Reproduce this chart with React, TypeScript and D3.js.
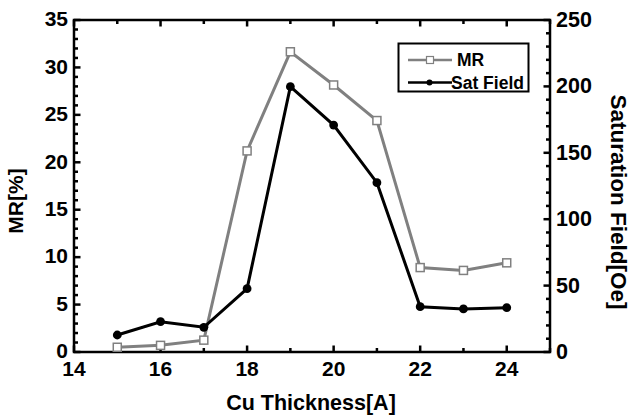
import React from 'react';
import * as d3 from 'd3';

const thickness = [15, 16, 17, 18, 19, 20, 21, 22, 23, 24];
const mrValues = [0.5, 0.7, 1.25, 21.2, 31.65, 28.15, 24.4, 8.9, 8.6, 9.4];
const satFieldValues = [12.8, 22.8, 18.6, 47.7, 199.8, 170.9, 127.5, 34.1, 32.4, 33.4];
const xTicks = [14, 16, 18, 20, 22, 24];
const leftTicks = [0, 5, 10, 15, 20, 25, 30, 35];
const rightTicks = [0, 50, 100, 150, 200, 250];

const W = 631;
const H = 416;
const m = { left: 74, right: 550, top: 20, bottom: 352 };
const font = '"Liberation Sans", Arial, sans-serif';

const App = () => {
  const x = d3.scaleLinear().domain([14, 25]).range([m.left, m.right]);
  const yL = d3.scaleLinear().domain([0, 35]).range([m.bottom, m.top]);
  const yR = d3.scaleLinear().domain([0, 250]).range([m.bottom, m.top]);

  const mrLine = d3.line<number>().x((d, i) => x(thickness[i])).y((d) => yL(d));
  const satLine = d3.line<number>().x((d, i) => x(thickness[i])).y((d) => yR(d));

  const xMinor = d3.range(14, 26, 1);
  const leftMinor = d3.range(0, 36, 1);
  const rightMinor = d3.range(0, 251, 10);

  const tickStyle = { stroke: '#000', strokeWidth: 2.5 };

  return (
    <svg width={W} height={H} style={{ position: 'absolute', left: 0, top: 0, display: 'block', background: '#fff' }}
      fontFamily={font} fontWeight="bold">
      {/* bottom + top ticks, all pointing inward */}
      {xMinor.map((v) => {
        const len = v % 2 === 0 ? 6.5 : 4;
        return (
          <g key={'xt' + v}>
            <line x1={x(v)} x2={x(v)} y1={m.bottom} y2={m.bottom - len} {...tickStyle} />
            <line x1={x(v)} x2={x(v)} y1={m.top} y2={m.top + len} {...tickStyle} />
          </g>
        );
      })}
      {leftMinor.map((v) => (
        <line key={'lt' + v} x1={m.left} x2={m.left + (v % 5 === 0 ? 6.5 : 4)} y1={yL(v)} y2={yL(v)} {...tickStyle} />
      ))}
      {rightMinor.map((v) => (
        <line key={'rt' + v} x1={m.right} x2={m.right - (v % 50 === 0 ? 6.5 : 4)} y1={yR(v)} y2={yR(v)} {...tickStyle} />
      ))}
      <rect x={m.left} y={m.top} width={m.right - m.left} height={m.bottom - m.top} fill="none" stroke="#000" strokeWidth={2.5} />

      {xTicks.map((v) => (
        <text key={'xl' + v} x={x(v)} y={376} textAnchor="middle" fontSize={21}>{v}</text>
      ))}
      {leftTicks.map((v) => (
        <text key={'ll' + v} x={68} y={yL(v)} dy="0.3em" textAnchor="end" fontSize={21}>{v}</text>
      ))}
      {rightTicks.map((v) => (
        <text key={'rl' + v} x={556} y={yR(v)} dy="0.33em" textAnchor="start" fontSize={21.5}>{v}</text>
      ))}

      <text x={311} y={410} textAnchor="middle" fontSize={21.5}>Cu Thickness[A]</text>
      <text transform="translate(23,201) rotate(-90)" textAnchor="middle" fontSize={21}>MR[%]</text>
      <text transform="translate(611,202) rotate(90)" textAnchor="middle" fontSize={22.5}>Saturation Field[Oe]</text>

      <path d={mrLine(mrValues) || ''} fill="none" stroke="#808080" strokeWidth={3} />
      <path d={satLine(satFieldValues) || ''} fill="none" stroke="#000" strokeWidth={3} />
      {mrValues.map((v, i) => (
        <rect key={'mr' + i} x={x(thickness[i]) - 4} y={yL(v) - 4} width={8} height={8} fill="#fff" stroke="#808080" strokeWidth={1.5} />
      ))}
      {satFieldValues.map((v, i) => (
        <circle key={'sf' + i} cx={x(thickness[i])} cy={yR(v)} r={4.4} fill="#000" />
      ))}

      {/* legend */}
      <rect x={398.5} y={43.5} width={130} height={48} fill="#fff" stroke="#000" strokeWidth={2} />
      <line x1={408} x2={452} y1={60} y2={60} stroke="#808080" strokeWidth={2.5} />
      <rect x={426.5} y={56.5} width={7} height={7} fill="#fff" stroke="#808080" strokeWidth={1.2} />
      <text x={457} y={66} fontSize={17.5}>MR</text>
      <line x1={408} x2={452} y1={82.5} y2={82.5} stroke="#000" strokeWidth={2.5} />
      <circle cx={429.5} cy={82.5} r={3} fill="#000" />
      <text x={451} y={88.5} fontSize={17.5}>Sat Field</text>
    </svg>
  );
};

export default App;
